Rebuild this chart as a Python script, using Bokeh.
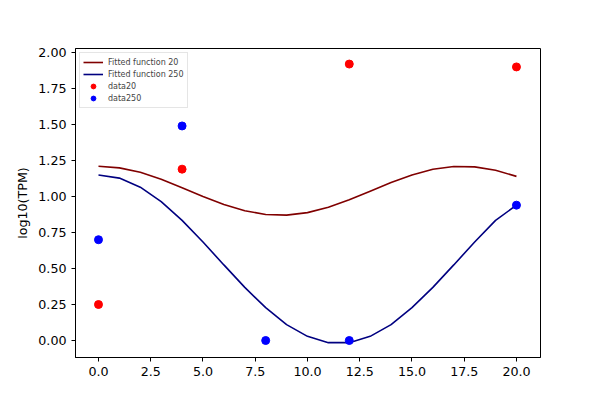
from bokeh.plotting import figure
from bokeh.embed import file_html
from bokeh.resources import INLINE
from bokeh.models import Range1d, FixedTicker, Legend, LegendItem, PrintfTickFormatter

fit_x = list(range(21))
fit20 = [1.210,1.199,1.168,1.120,1.061,1.000,0.945,0.901,0.875,0.871,0.888,0.925,0.977,1.037,1.097,1.150,1.189,1.208,1.206,1.182,1.140]
fit250 = [1.150,1.128,1.065,0.964,0.834,0.684,0.525,0.369,0.228,0.110,0.029,-0.015,-0.015,0.029,0.110,0.228,0.369,0.525,0.684,0.834,0.940]
x20 = [0, 4, 12, 20]
y20 = [0.25, 1.19, 1.92, 1.90]
x250 = [0, 4, 8, 12, 20]
y250 = [0.70, 1.49, 0.0, 0.0, 0.94]

p = figure(width=584, height=384, output_backend="svg", toolbar_location=None,
           x_range=Range1d(-1.1, 21.15), y_range=Range1d(-0.118, 2.028),
           min_border_left=75, min_border_right=44, min_border_top=48, min_border_bottom=27)
p.grid.visible = False
p.outline_line_color = "black"
l1 = p.line(fit_x, fit20, line_color="#800000", line_width=1.6)
l2 = p.line(fit_x, fit250, line_color="#000080", line_width=1.6)
s1 = p.scatter(x20, y20, size=8, color="red")
s2 = p.scatter(x250, y250, size=8, color="blue")
leg = Legend(items=[LegendItem(label="Fitted function 20", renderers=[l1]),
                    LegendItem(label="Fitted function 250", renderers=[l2]),
                    LegendItem(label="data20", renderers=[s1]),
                    LegendItem(label="data250", renderers=[s2])],
             location="top_left", label_text_font_size="6pt", glyph_height=12, glyph_width=20,
             label_height=12, spacing=0, padding=3, margin=4, border_line_color="#cccccc",
             label_text_font="DejaVu Sans")
p.add_layout(leg)
p.xaxis.ticker = FixedTicker(ticks=[0, 2.5, 5, 7.5, 10, 12.5, 15, 17.5, 20])
p.yaxis.ticker = FixedTicker(ticks=[0, 0.25, 0.5, 0.75, 1.0, 1.25, 1.5, 1.75, 2.0])
p.yaxis.formatter = PrintfTickFormatter(format="%.2f")
p.xaxis.formatter = PrintfTickFormatter(format="%.1f")
p.yaxis.axis_label = "log10(TPM)"
for ax in (p.xaxis, p.yaxis):
    ax.major_label_text_font = "DejaVu Sans"
    ax.major_label_text_font_size = "9.5pt"
    ax.minor_tick_line_color = None
    ax.major_tick_out = 4
    ax.major_tick_in = 0
    ax.major_label_text_color = "black"
p.yaxis.axis_label_text_font = "DejaVu Sans"
p.yaxis.axis_label_text_font_style = "normal"
p.yaxis.axis_label_text_font_size = "9.5pt"
p.yaxis.axis_label_text_color = "black"
open("out.html", "w").write(file_html(p, INLINE))
